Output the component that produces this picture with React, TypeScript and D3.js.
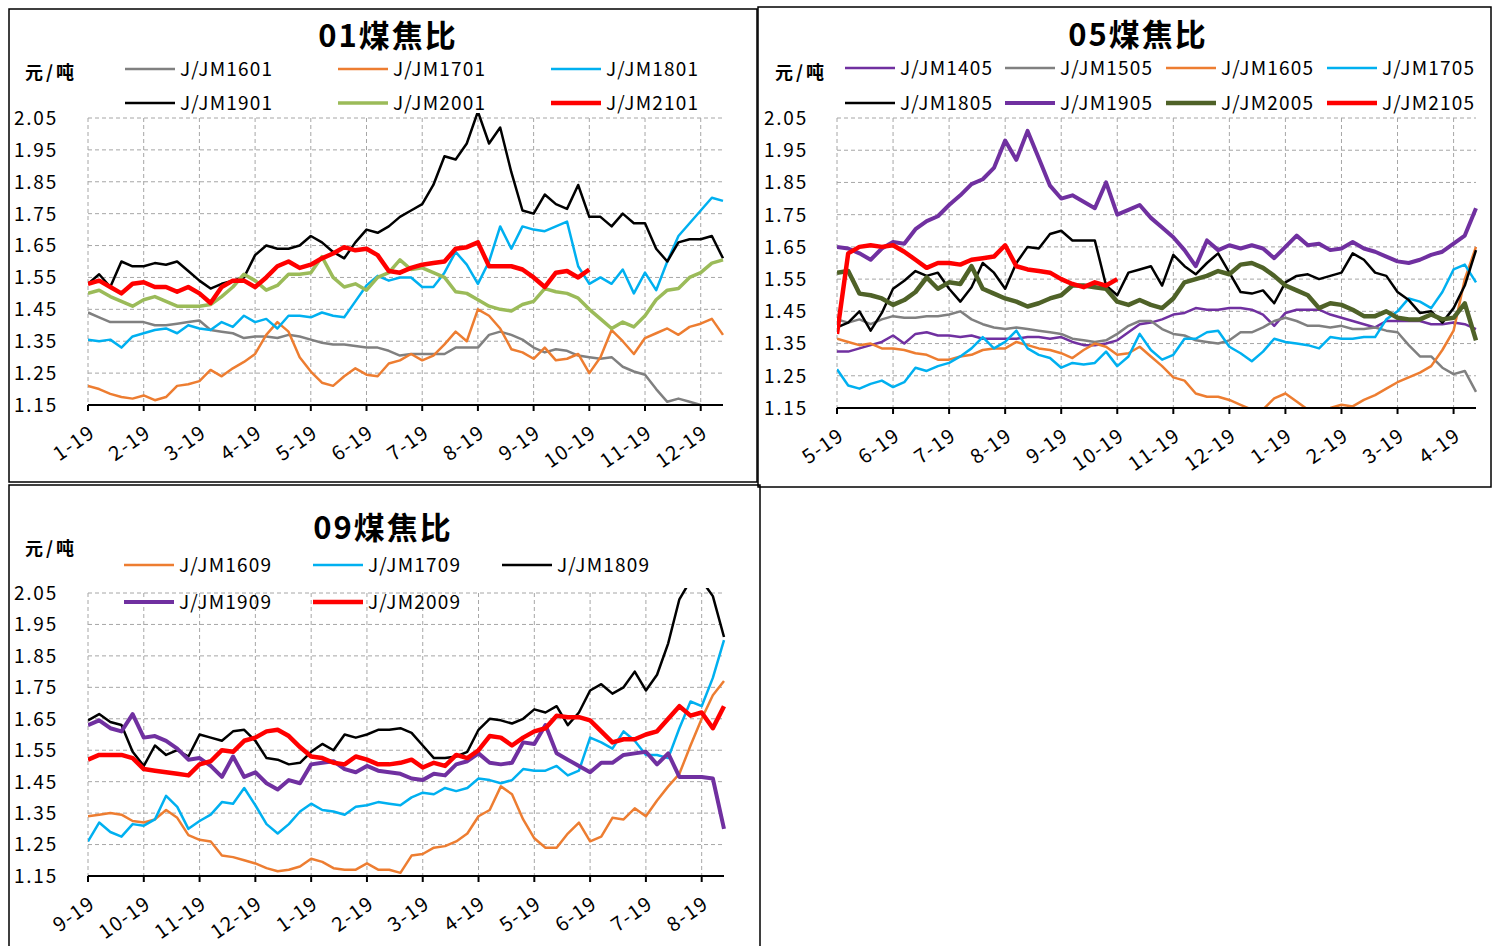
import React, { useEffect, useRef } from "react";
import * as d3 from "d3";

// one sample every 0.2 month, x is measured in months from the first tick
const STEP = 0.2;
const X_END = 11.4;

const labels01 = ["1-19", "2-19", "3-19", "4-19", "5-19", "6-19", "7-19", "8-19", "9-19", "10-19", "11-19", "12-19"];
const labels05 = ["5-19", "6-19", "7-19", "8-19", "9-19", "10-19", "11-19", "12-19", "1-19", "2-19", "3-19", "4-19"];
const labels09 = ["9-19", "10-19", "11-19", "12-19", "1-19", "2-19", "3-19", "4-19", "5-19", "6-19", "7-19", "8-19"];
const yTicks = [1.15, 1.25, 1.35, 1.45, 1.55, 1.65, 1.75, 1.85, 1.95, 2.05];

// ---- 01 煤焦比
const jjm1601 = [
  1.44, 1.425, 1.41, 1.41, 1.41, 1.41, 1.40, 1.40, 1.405, 1.41,
  1.415, 1.385, 1.38, 1.375, 1.36, 1.365, 1.365, 1.36, 1.37, 1.365,
  1.355, 1.345, 1.34, 1.34, 1.335, 1.33, 1.33, 1.32, 1.305, 1.31,
  1.31, 1.31, 1.31, 1.33, 1.33, 1.33, 1.37, 1.38, 1.37, 1.355,
  1.33, 1.315, 1.325, 1.32, 1.305, 1.30, 1.295, 1.30, 1.27, 1.255,
  1.245, 1.20, 1.16, 1.17, 1.16, 1.15,
];
const jjm1701 = [
  1.21, 1.20, 1.185, 1.175, 1.17, 1.18, 1.165, 1.175, 1.21, 1.215,
  1.225, 1.26, 1.24, 1.265, 1.285, 1.31, 1.37, 1.41, 1.38, 1.30,
  1.255, 1.22, 1.21, 1.24, 1.265, 1.245, 1.24, 1.28, 1.29, 1.31,
  1.29, 1.305, 1.34, 1.38, 1.35, 1.45, 1.43, 1.39, 1.325, 1.315,
  1.295, 1.33, 1.29, 1.295, 1.31, 1.25, 1.30, 1.385, 1.35, 1.31,
  1.36, 1.375, 1.39, 1.37, 1.395, 1.405, 1.42, 1.37,
];
const jjm1801 = [
  1.355, 1.35, 1.355, 1.33, 1.365, 1.375, 1.385, 1.39, 1.375, 1.40,
  1.39, 1.385, 1.41, 1.395, 1.43, 1.41, 1.42, 1.39, 1.43, 1.43,
  1.425, 1.44, 1.43, 1.425, 1.475, 1.525, 1.555, 1.54, 1.55, 1.55,
  1.52, 1.52, 1.565, 1.63, 1.59, 1.53, 1.60, 1.71, 1.64, 1.71,
  1.70, 1.695, 1.71, 1.725, 1.585, 1.53, 1.55, 1.53, 1.575, 1.50,
  1.565, 1.51, 1.60, 1.68, 1.72, 1.76, 1.80, 1.79,
];
const jjm1901 = [
  1.53, 1.56, 1.52, 1.60, 1.585, 1.585, 1.595, 1.59, 1.60, 1.57,
  1.54, 1.515, 1.53, 1.54, 1.55, 1.62, 1.65, 1.64, 1.64, 1.65,
  1.68, 1.66, 1.63, 1.61, 1.66, 1.70, 1.69, 1.71, 1.74, 1.76,
  1.78, 1.84, 1.93, 1.92, 1.97, 2.07, 1.97, 2.02, 1.88, 1.76,
  1.75, 1.81, 1.78, 1.765, 1.84, 1.74, 1.74, 1.71, 1.75, 1.72,
  1.72, 1.64, 1.60, 1.66, 1.67, 1.67, 1.68, 1.61,
];
const jjm2001 = [
  1.50, 1.51, 1.49, 1.475, 1.46, 1.48, 1.49, 1.475, 1.46, 1.46,
  1.46, 1.465, 1.49, 1.52, 1.56, 1.54, 1.51, 1.525, 1.56, 1.56,
  1.565, 1.615, 1.55, 1.52, 1.53, 1.51, 1.55, 1.565, 1.605, 1.575,
  1.58, 1.565, 1.55, 1.505, 1.50, 1.48, 1.46, 1.45, 1.445, 1.465,
  1.475, 1.515, 1.505, 1.50, 1.485, 1.45, 1.42, 1.39, 1.41, 1.395,
  1.43, 1.48, 1.51, 1.515, 1.55, 1.565, 1.595, 1.605,
];
const jjm2101 = [
  1.53, 1.54, 1.52, 1.50, 1.53, 1.535, 1.52, 1.52, 1.505, 1.52,
  1.50, 1.47, 1.52, 1.54, 1.54, 1.52, 1.55, 1.585, 1.60, 1.58,
  1.59, 1.61, 1.625, 1.645, 1.635, 1.64, 1.62, 1.57, 1.565, 1.58,
  1.59, 1.595, 1.60, 1.64, 1.645, 1.66, 1.585, 1.585, 1.585, 1.575,
  1.55, 1.52, 1.565, 1.57, 1.55, 1.575,
];

// ---- 05 煤焦比
const jjm1405 = [
  1.325, 1.325, 1.335, 1.345, 1.355, 1.375, 1.35, 1.38, 1.385, 1.375,
  1.375, 1.37, 1.375, 1.365, 1.365, 1.365, 1.365, 1.37, 1.37, 1.365,
  1.37, 1.355, 1.345, 1.345, 1.35, 1.36, 1.385, 1.41, 1.415, 1.425,
  1.44, 1.445, 1.46, 1.455, 1.455, 1.46, 1.46, 1.455, 1.44, 1.405,
  1.445, 1.455, 1.455, 1.455, 1.44, 1.43, 1.42, 1.41, 1.40, 1.42,
  1.42, 1.42, 1.42, 1.41, 1.41, 1.415, 1.41, 1.395,
];
const jjm1505 = [
  1.425, 1.415, 1.425, 1.41, 1.425, 1.435, 1.43, 1.43, 1.435, 1.435,
  1.44, 1.45, 1.425, 1.41, 1.40, 1.395, 1.40, 1.395, 1.39, 1.385,
  1.38, 1.365, 1.36, 1.355, 1.36, 1.38, 1.405, 1.42, 1.42, 1.395,
  1.38, 1.375, 1.36, 1.355, 1.35, 1.36, 1.385, 1.385, 1.40, 1.42,
  1.43, 1.42, 1.405, 1.405, 1.40, 1.405, 1.395, 1.395, 1.40, 1.39,
  1.385, 1.345, 1.31, 1.31, 1.275, 1.255, 1.265, 1.20,
];
const jjm1605 = [
  1.365, 1.355, 1.345, 1.35, 1.335, 1.335, 1.33, 1.32, 1.315, 1.30,
  1.30, 1.31, 1.315, 1.33, 1.335, 1.335, 1.355, 1.345, 1.335, 1.33,
  1.32, 1.305, 1.33, 1.35, 1.34, 1.315, 1.32, 1.34, 1.31, 1.28,
  1.245, 1.235, 1.195, 1.185, 1.185, 1.175, 1.16, 1.145, 1.145, 1.18,
  1.195, 1.17, 1.145, 1.145, 1.15, 1.16, 1.155, 1.175, 1.19, 1.21,
  1.23, 1.245, 1.26, 1.28, 1.33, 1.39, 1.55, 1.65,
];
const jjm1705 = [
  1.27, 1.22, 1.21, 1.225, 1.235, 1.215, 1.23, 1.275, 1.265, 1.28,
  1.29, 1.31, 1.335, 1.37, 1.335, 1.355, 1.39, 1.335, 1.315, 1.305,
  1.275, 1.29, 1.285, 1.29, 1.325, 1.28, 1.31, 1.38, 1.33, 1.30,
  1.315, 1.365, 1.365, 1.385, 1.39, 1.34, 1.32, 1.295, 1.325, 1.365,
  1.355, 1.35, 1.345, 1.335, 1.37, 1.365, 1.365, 1.37, 1.37, 1.425,
  1.45, 1.49, 1.48, 1.46, 1.51, 1.58, 1.595, 1.54,
];
const jjm1805 = [
  1.40, 1.415, 1.45, 1.39, 1.445, 1.52, 1.545, 1.575, 1.56, 1.57,
  1.52, 1.48, 1.525, 1.60, 1.57, 1.52, 1.60, 1.65, 1.645, 1.69,
  1.70, 1.67, 1.67, 1.67, 1.53, 1.50, 1.57, 1.58, 1.59, 1.53,
  1.625, 1.59, 1.565, 1.60, 1.63, 1.57, 1.51, 1.505, 1.515, 1.475,
  1.54, 1.56, 1.565, 1.55, 1.56, 1.57, 1.63, 1.61, 1.57, 1.56,
  1.51, 1.485, 1.445, 1.45, 1.415, 1.46, 1.53, 1.64,
];
const jjm1905 = [
  1.65, 1.645, 1.63, 1.61, 1.645, 1.665, 1.66, 1.705, 1.73, 1.745,
  1.78, 1.81, 1.845, 1.86, 1.895, 1.98, 1.92, 2.01, 1.925, 1.84,
  1.80, 1.81, 1.79, 1.77, 1.85, 1.75, 1.765, 1.78, 1.74, 1.71,
  1.68, 1.64, 1.59, 1.67, 1.64, 1.655, 1.645, 1.655, 1.645, 1.615,
  1.65, 1.685, 1.655, 1.66, 1.64, 1.645, 1.665, 1.645, 1.635, 1.62,
  1.605, 1.60, 1.61, 1.625, 1.635, 1.66, 1.685, 1.77,
];
const jjm2005 = [
  1.57, 1.575, 1.505, 1.50, 1.49, 1.47, 1.485, 1.51, 1.555, 1.52,
  1.54, 1.535, 1.59, 1.52, 1.505, 1.49, 1.48, 1.465, 1.475, 1.49,
  1.50, 1.53, 1.53, 1.525, 1.52, 1.48, 1.47, 1.485, 1.47, 1.46,
  1.49, 1.54, 1.55, 1.56, 1.575, 1.565, 1.595, 1.60, 1.585, 1.56,
  1.53, 1.515, 1.50, 1.46, 1.475, 1.47, 1.455, 1.435, 1.435, 1.45,
  1.43, 1.425, 1.425, 1.44, 1.425, 1.43, 1.475, 1.36,
];
const jjm2105 = [
  1.38, 1.63, 1.65, 1.655, 1.65, 1.655, 1.635, 1.61, 1.585, 1.60,
  1.60, 1.595, 1.61, 1.615, 1.62, 1.655, 1.59, 1.58, 1.575, 1.57,
  1.55, 1.535, 1.525, 1.54, 1.53, 1.55,
];

// ---- 09 煤焦比
const jjm1609 = [
  1.34, 1.345, 1.35, 1.345, 1.325, 1.32, 1.33, 1.36, 1.335, 1.28,
  1.265, 1.26, 1.215, 1.21, 1.20, 1.19, 1.175, 1.165, 1.17, 1.18,
  1.205, 1.195, 1.175, 1.17, 1.17, 1.19, 1.17, 1.17, 1.16, 1.215,
  1.22, 1.24, 1.245, 1.26, 1.285, 1.34, 1.36, 1.435, 1.41, 1.33,
  1.27, 1.24, 1.24, 1.285, 1.32, 1.26, 1.275, 1.335, 1.33, 1.365,
  1.34, 1.39, 1.435, 1.475, 1.565, 1.65, 1.725, 1.77,
];
const jjm1709 = [
  1.26, 1.32, 1.29, 1.275, 1.315, 1.31, 1.33, 1.405, 1.37, 1.30,
  1.325, 1.345, 1.385, 1.38, 1.43, 1.375, 1.315, 1.285, 1.315, 1.355,
  1.38, 1.36, 1.355, 1.345, 1.37, 1.375, 1.385, 1.38, 1.375, 1.40,
  1.415, 1.41, 1.43, 1.42, 1.43, 1.46, 1.455, 1.445, 1.455, 1.49,
  1.485, 1.485, 1.50, 1.47, 1.485, 1.59, 1.575, 1.555, 1.61, 1.58,
  1.535, 1.535, 1.525, 1.62, 1.705, 1.69, 1.78, 1.90,
];
const jjm1809 = [
  1.645, 1.665, 1.64, 1.63, 1.545, 1.50, 1.565, 1.535, 1.55, 1.53,
  1.60, 1.59, 1.58, 1.61, 1.615, 1.58, 1.525, 1.52, 1.505, 1.51,
  1.545, 1.57, 1.55, 1.60, 1.59, 1.60, 1.615, 1.615, 1.62, 1.605,
  1.565, 1.525, 1.525, 1.53, 1.545, 1.615, 1.65, 1.645, 1.635, 1.65,
  1.68, 1.67, 1.69, 1.63, 1.67, 1.74, 1.76, 1.73, 1.75, 1.80,
  1.74, 1.79, 1.89, 2.03, 2.09, 2.09, 2.04, 1.91,
];
const jjm1909 = [
  1.63, 1.645, 1.62, 1.61, 1.665, 1.59, 1.595, 1.58, 1.555, 1.52,
  1.525, 1.50, 1.465, 1.53, 1.465, 1.48, 1.445, 1.425, 1.455, 1.445,
  1.505, 1.51, 1.515, 1.49, 1.48, 1.50, 1.485, 1.48, 1.475, 1.46,
  1.455, 1.475, 1.47, 1.505, 1.515, 1.54, 1.51, 1.505, 1.51, 1.575,
  1.57, 1.63, 1.54, 1.52, 1.50, 1.48, 1.51, 1.51, 1.535, 1.54,
  1.545, 1.505, 1.54, 1.465, 1.465, 1.465, 1.46, 1.30,
];
const jjm2009 = [
  1.52, 1.535, 1.535, 1.535, 1.525, 1.49, 1.485, 1.48, 1.475, 1.47,
  1.505, 1.515, 1.55, 1.545, 1.58, 1.59, 1.61, 1.615, 1.595, 1.56,
  1.53, 1.525, 1.51, 1.505, 1.53, 1.52, 1.505, 1.505, 1.51, 1.52,
  1.495, 1.51, 1.50, 1.535, 1.525, 1.55, 1.595, 1.59, 1.565, 1.59,
  1.61, 1.62, 1.66, 1.655, 1.655, 1.645, 1.61, 1.575, 1.585, 1.585,
  1.60, 1.61, 1.65, 1.69, 1.66, 1.67, 1.62, 1.69,
];

const GRAY = "#808080";
const ORANGE = "#ED7D31";
const BLUE = "#00B0F0";
const BLACK = "#000000";
const GREEN = "#9BBB59";
const RED = "#FF0000";
const PURPLE = "#7030A0";
const OLIVE = "#4F6228";

const FONT = "'Noto Sans CJK SC', 'Noto Sans', sans-serif";

const panels = [
  {
    id: "p01",
    box: { x: 9, y: 9, w: 748, h: 473 },
    title: "01煤焦比",
    titleX: 388,
    titleY: 47,
    unitX: 25,
    unitY: 79,
    plot: { left: 88, right: 723, top: 118, bottom: 405 },
    labelRight: 58,
    legendCols: [125, 338, 551],
    legendRows: [69, 103],
    xLabels: labels01,
    series: [
      { name: "J/JM1601", values: jjm1601, color: GRAY, width: 2.5 },
      { name: "J/JM1701", values: jjm1701, color: ORANGE, width: 2.5 },
      { name: "J/JM1801", values: jjm1801, color: BLUE, width: 2.5 },
      { name: "J/JM1901", values: jjm1901, color: BLACK, width: 2.5 },
      { name: "J/JM2001", values: jjm2001, color: GREEN, width: 3.5 },
      { name: "J/JM2101", values: jjm2101, color: RED, width: 4.5 },
    ],
  },
  {
    id: "p05",
    box: { x: 758, y: 7, w: 733, h: 480 },
    title: "05煤焦比",
    titleX: 1138,
    titleY: 46,
    unitX: 775,
    unitY: 79,
    plot: { left: 837, right: 1476, top: 118, bottom: 408 },
    labelRight: 808,
    legendCols: [845, 1005, 1166, 1327],
    legendRows: [68, 103],
    xLabels: labels05,
    series: [
      { name: "J/JM1405", values: jjm1405, color: PURPLE, width: 2.5 },
      { name: "J/JM1505", values: jjm1505, color: GRAY, width: 2.5 },
      { name: "J/JM1605", values: jjm1605, color: ORANGE, width: 2.5 },
      { name: "J/JM1705", values: jjm1705, color: BLUE, width: 2.5 },
      { name: "J/JM1805", values: jjm1805, color: BLACK, width: 2.5 },
      { name: "J/JM1905", values: jjm1905, color: PURPLE, width: 4 },
      { name: "J/JM2005", values: jjm2005, color: OLIVE, width: 4.5 },
      { name: "J/JM2105", values: jjm2105, color: RED, width: 4.5 },
    ],
  },
  {
    id: "p09",
    box: { x: 9, y: 485, w: 751, h: 470 },
    title: "09煤焦比",
    titleX: 383,
    titleY: 539,
    unitX: 25,
    unitY: 555,
    plot: { left: 88, right: 724, top: 593, bottom: 876 },
    labelRight: 58,
    legendCols: [124, 313, 502],
    legendRows: [565, 602],
    xLabels: labels09,
    series: [
      { name: "J/JM1609", values: jjm1609, color: ORANGE, width: 2.5 },
      { name: "J/JM1709", values: jjm1709, color: BLUE, width: 2.5 },
      { name: "J/JM1809", values: jjm1809, color: BLACK, width: 2.5 },
      { name: "J/JM1909", values: jjm1909, color: PURPLE, width: 4 },
      { name: "J/JM2009", values: jjm2009, color: RED, width: 4.5 },
    ],
  },
];

function drawPanel(svg: any, p: any) {
  const g = svg.append("g").attr("class", p.id);
  const { left, right, top, bottom } = p.plot;

  const x = d3.scaleLinear().domain([0, X_END]).range([left, right]);
  const y = d3.scaleLinear().domain([1.15, 2.05]).range([bottom, top]);
  const months = d3.range(p.xLabels.length);

  g.append("rect")
    .attr("x", p.box.x)
    .attr("y", p.box.y)
    .attr("width", p.box.w)
    .attr("height", p.box.h)
    .attr("fill", "none")
    .attr("stroke", "#000")
    .attr("stroke-width", 1.5);

  g.append("text")
    .attr("x", p.titleX)
    .attr("y", p.titleY)
    .attr("text-anchor", "middle")
    .attr("font-family", FONT)
    .attr("font-weight", "bold")
    .attr("font-size", 31)
    .attr("letter-spacing", 2)
    .text(p.title);

  g.append("text")
    .attr("x", p.unitX)
    .attr("y", p.unitY)
    .attr("font-family", FONT)
    .attr("font-weight", "bold")
    .attr("font-size", 18)
    .attr("letter-spacing", 3)
    .text("元/吨");

  // grid
  const grid = g.append("g").attr("stroke", "#A6A6A6").attr("stroke-width", 1).attr("stroke-dasharray", "4,3");
  grid.selectAll(".hg")
    .data(yTicks.slice(1))
    .join("line")
    .attr("class", "hg")
    .attr("x1", left)
    .attr("x2", right)
    .attr("y1", (d) => y(d))
    .attr("y2", (d) => y(d));
  grid.selectAll(".vg")
    .data(months)
    .join("line")
    .attr("class", "vg")
    .attr("x1", (d) => x(d))
    .attr("x2", (d) => x(d))
    .attr("y1", top)
    .attr("y2", bottom);

  // y labels
  g.selectAll(".yl")
    .data(yTicks)
    .join("text")
    .attr("class", "yl")
    .attr("x", p.labelRight)
    .attr("y", (d) => y(d))
    .attr("dy", "0.36em")
    .attr("text-anchor", "end")
    .attr("font-family", FONT)
    .attr("font-size", 19)
    .attr("letter-spacing", 1.8)
    .text((d) => d.toFixed(2));

  // legend
  p.series.forEach((s: any, i: number) => {
    const cols = p.legendCols.length;
    const lx = p.legendCols[i % cols];
    const ly = p.legendRows[Math.floor(i / cols)];
    g.append("line")
      .attr("x1", lx)
      .attr("x2", lx + 50)
      .attr("y1", ly)
      .attr("y2", ly)
      .attr("stroke", s.color)
      .attr("stroke-width", s.width);
    g.append("text")
      .attr("x", lx + 55)
      .attr("y", ly)
      .attr("dy", "0.36em")
      .attr("font-family", FONT)
      .attr("font-size", 19)
      .attr("letter-spacing", 1.2)
      .text(s.name);
  });

  // lines
  const clipId = "clip-" + p.id;
  g.append("clipPath")
    .attr("id", clipId)
    .append("rect")
    .attr("x", left)
    .attr("y", top - 5)
    .attr("width", right - left + 4)
    .attr("height", bottom - top + 5);

  const line = d3
    .line<number>()
    .x((d, i) => x(i * STEP))
    .y((d) => y(d));

  g.append("g")
    .attr("clip-path", `url(#${clipId})`)
    .selectAll("path")
    .data(p.series)
    .join("path")
    .attr("d", (s: any) => line(s.values))
    .attr("fill", "none")
    .attr("stroke", (s: any) => s.color)
    .attr("stroke-width", (s: any) => s.width)
    .attr("stroke-linejoin", "round");

  // x axis
  g.append("line")
    .attr("x1", left)
    .attr("x2", right)
    .attr("y1", bottom)
    .attr("y2", bottom)
    .attr("stroke", "#000")
    .attr("stroke-width", 2);
  g.selectAll(".xt")
    .data(months)
    .join("line")
    .attr("class", "xt")
    .attr("x1", (d) => x(d))
    .attr("x2", (d) => x(d))
    .attr("y1", bottom)
    .attr("y2", bottom + 6)
    .attr("stroke", "#000")
    .attr("stroke-width", 2);

  g.selectAll(".xl")
    .data(months)
    .join("text")
    .attr("class", "xl")
    .attr("transform", (d) => `translate(${x(d)}, ${bottom + 19}) rotate(-35)`)
    .attr("dy", "0.72em")
    .attr("text-anchor", "end")
    .attr("font-family", FONT)
    .attr("font-size", 20)
    .attr("letter-spacing", 1.2)
    .text((d) => p.xLabels[d]);
}

export default function App() {
  const ref = useRef<SVGSVGElement>(null);

  useEffect(() => {
    const svg = d3.select(ref.current);
    svg.selectAll("*").remove();
    svg.append("rect").attr("width", 1492).attr("height", 946).attr("fill", "#fff");
    panels.forEach((p) => drawPanel(svg, p));
  }, []);

  return (
    <div style={{ position: "absolute", left: 0, top: 0 }}>
      <svg ref={ref} width={1492} height={946} style={{ display: "block" }} />
    </div>
  );
}
